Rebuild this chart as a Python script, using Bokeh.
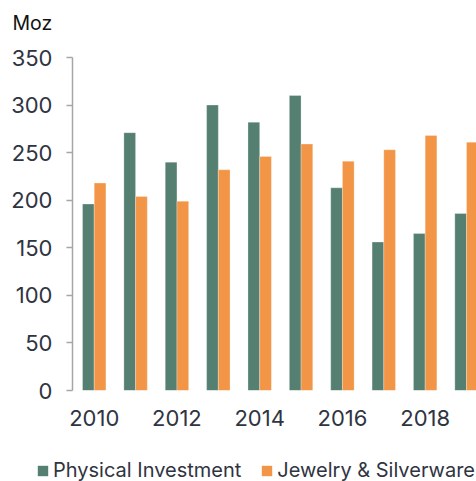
from bokeh.plotting import figure
from bokeh.layouts import column
from bokeh.models import FixedTicker, Legend, LegendItem, Range1d, Label
from bokeh.transform import dodge
from bokeh.models import ColumnDataSource
from bokeh.embed import file_html
from bokeh.resources import INLINE

years = [2010, 2011, 2012, 2013, 2014, 2015, 2016, 2017, 2018, 2019]
physical_investment = [196, 271, 240, 300, 282, 310, 213, 156, 165, 186]
jewelry_silverware = [218, 204, 199, 232, 246, 259, 241, 253, 268, 261]
y_ticks = [0, 50, 100, 150, 200, 250, 300, 350]
x_ticks = [2010, 2012, 2014, 2016, 2018]
series_names = ["Physical Investment", "Jewelry & Silverware"]
unit_label = "Moz"

GREEN = "#547F71"
ORANGE = "#F29546"
TEXT = "#2F3441"
FONT = "Inter"
FS = "22px"


def strip(h):
    f = figure(width=476, height=h, output_backend="svg", toolbar_location=None,
               x_axis_location=None, y_axis_location=None,
               x_range=Range1d(0, 1), y_range=Range1d(0, 1))
    f.min_border_left = f.min_border_right = f.min_border_top = f.min_border_bottom = 0
    f.outline_line_color = None
    f.grid.visible = False
    f.frame_align = False
    return f


src = ColumnDataSource(dict(year=years, pi=physical_investment, js=jewelry_silverware))

# unit label strip above the chart
top = strip(38)
top.add_layout(Label(x=12, y=16, x_units="screen", y_units="screen", text=unit_label,
                     text_font=FONT, text_font_size="19.5px", text_color="#111111",
                     text_baseline="alphabetic"))

p = figure(width=476, height=402, output_backend="svg", toolbar_location=None,
           x_range=Range1d(2009.475, 2019.241), y_range=Range1d(0, 350))
p.frame_align = False
p.min_border_left = 72
p.min_border_right = 0
p.min_border_top = 19
p.min_border_bottom = 50
p.outline_line_color = None
p.grid.visible = False

bw = 0.283
bar_kw = dict(width=bw, source=src, line_color="white", line_alpha=0.35, line_width=0.8)
p.vbar(x=dodge("year", -bw / 2, range=p.x_range), top="pi", fill_color=GREEN, **bar_kw)
p.vbar(x=dodge("year", bw / 2, range=p.x_range), top="js", fill_color=ORANGE, **bar_kw)

ya = p.yaxis[0]
ya.ticker = FixedTicker(ticks=y_ticks)
ya.axis_line_color = "#A6A6A6"
ya.major_tick_line_color = "#A6A6A6"
ya.axis_line_width = 1.5
ya.major_tick_line_width = 1.5
ya.major_tick_out = 6
ya.major_tick_in = 0
ya.minor_tick_line_color = None
ya.major_label_standoff = 14
ya.major_label_text_font = FONT
ya.major_label_text_font_size = FS
ya.major_label_text_color = TEXT

xa = p.xaxis[0]
xa.ticker = FixedTicker(ticks=x_ticks)
xa.axis_line_color = None
xa.major_tick_line_color = None
xa.minor_tick_line_color = None
xa.major_label_standoff = 13
xa.major_label_text_font = FONT
xa.major_label_text_font_size = FS
xa.major_label_text_color = TEXT

# legend strip below the chart
lg = strip(41)
l1 = lg.vbar(x="year", top="pi", width=bw, source=src, fill_color=GREEN, line_color=None, visible=False)
l2 = lg.vbar(x="year", top="js", width=bw, source=src, fill_color=ORANGE, line_color=None, visible=False)

legend = Legend(items=[LegendItem(label=series_names[0], renderers=[l1]),
                       LegendItem(label=series_names[1], renderers=[l2])],
                orientation="horizontal", location=(36, -1),
                padding=0, margin=0, spacing=19, label_standoff=4,
                glyph_width=13, glyph_height=13,
                label_text_font=FONT, label_text_font_size="20px",
                label_text_color=TEXT, border_line_color=None,
                background_fill_alpha=0, inactive_fill_alpha=0)
lg.add_layout(legend, "center")

layout = column(top, p, lg, spacing=0)
open("out.html", "w").write(file_html(layout, INLINE))
